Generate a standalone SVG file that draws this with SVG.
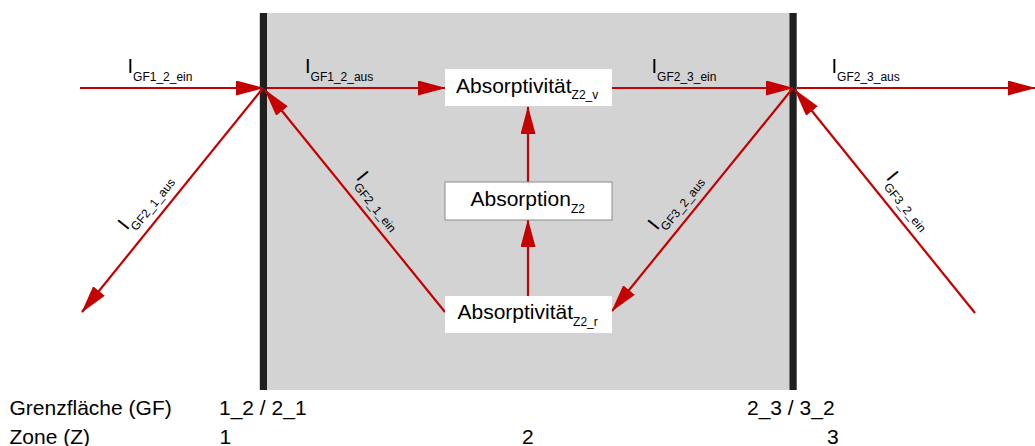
<svg xmlns="http://www.w3.org/2000/svg" width="1035" height="446" viewBox="0 0 1035 446">
<defs>
<style>
text{font-family:"Liberation Sans",Arial,sans-serif;fill:#000}
.lbl{font-size:20px}
.sub{font-size:12px}
.box{font-size:21px}
.bsub{font-size:12px}
.axis{font-size:21px}
.arr{stroke:#c40000;stroke-width:2.2;fill:none;marker-end:url(#ah)}
.bar{fill:#1f1f1f}
</style>
<marker id="ah" viewBox="0 0 28 15" refX="27" refY="7.5" markerWidth="28" markerHeight="15" markerUnits="userSpaceOnUse" orient="auto">
<path d="M0,0 L28,7.5 L0,15 z" fill="#c40000"/>
</marker>
</defs>
<rect width="1035" height="446" fill="#fff"/>
<g id="zone2">
<rect x="263" y="13" width="530" height="377" fill="#d3d3d3"/>
</g>
<g id="gf12">
<rect class="bar" x="259.8" y="13" width="7.2" height="377"/>
</g>
<g id="gf23">
<rect class="bar" x="789.5" y="13" width="7.2" height="377"/>
</g>
<g id="connectors">
<line class="arr" x1="80" y1="88" x2="263" y2="88"/>
<line class="arr" x1="267" y1="88" x2="445" y2="88"/>
<line class="arr" x1="612" y1="88" x2="793" y2="88"/>
<line class="arr" x1="797" y1="88" x2="1035" y2="88"/>
<line class="arr" x1="263" y1="88" x2="82" y2="312"/>
<line class="arr" x1="445" y1="312" x2="265" y2="90"/>
<line class="arr" x1="793" y1="88" x2="612" y2="311"/>
<line class="arr" x1="975" y1="313" x2="795" y2="90"/>
<line class="arr" x1="528" y1="182" x2="528" y2="107"/>
<line class="arr" x1="528" y1="296" x2="528" y2="220"/>
<text class="lbl" x="127.5" y="73.3">I<tspan class="sub" dy="7.5">GF1_2_ein</tspan></text>
<text class="lbl" x="305" y="73.3">I<tspan class="sub" dy="7.5">GF1_2_aus</tspan></text>
<text class="lbl" x="651.5" y="73.3">I<tspan class="sub" dy="7.5">GF2_3_ein</tspan></text>
<text class="lbl" x="831.5" y="73.3">I<tspan class="sub" dy="7.5">GF2_3_aus</tspan></text>
<text class="lbl" transform="translate(127,231) rotate(-51)">I<tspan class="sub" dy="7.5">GF2_1_aus</tspan></text>
<text class="lbl" transform="translate(355.5,178) rotate(51)">I<tspan class="sub" dy="7.5">GF2_1_ein</tspan></text>
<text class="lbl" transform="translate(657,231) rotate(-51)">I<tspan class="sub" dy="7.5">GF3_2_aus</tspan></text>
<text class="lbl" transform="translate(885.5,178) rotate(51)">I<tspan class="sub" dy="7.5">GF3_2_ein</tspan></text>
</g>
<g id="absorptivitaet_v">
<rect x="445" y="69" width="167" height="37" fill="#fff"/>
<text class="box" x="456" y="92.5">Absorptivität<tspan class="bsub" dy="6.5">Z2_v</tspan></text>
</g>
<g id="absorption">
<rect x="445" y="182" width="167" height="38" fill="#fff" stroke="#8c8c8c" stroke-width="1"/>
<text class="box" x="470.5" y="206">Absorption<tspan class="bsub" dy="7">Z2</tspan></text>
</g>
<g id="absorptivitaet_r">
<rect x="445" y="296" width="167" height="37" fill="#fff"/>
<text class="box" x="457.5" y="319.3">Absorptivität<tspan class="bsub" dy="6.5">Z2_r</tspan></text>
</g>
<g id="legend">
<text class="axis" x="9.5" y="415">Grenzfläche (GF)</text>
<text class="axis" x="219" y="415">1_2 / 2_1</text>
<text class="axis" x="747" y="415">2_3 / 3_2</text>
<text class="axis" x="9.5" y="444">Zone (Z)</text>
<text class="axis" x="219.5" y="444">1</text>
<text class="axis" x="522" y="444">2</text>
<text class="axis" x="827" y="444">3</text>
</g>
</svg>
